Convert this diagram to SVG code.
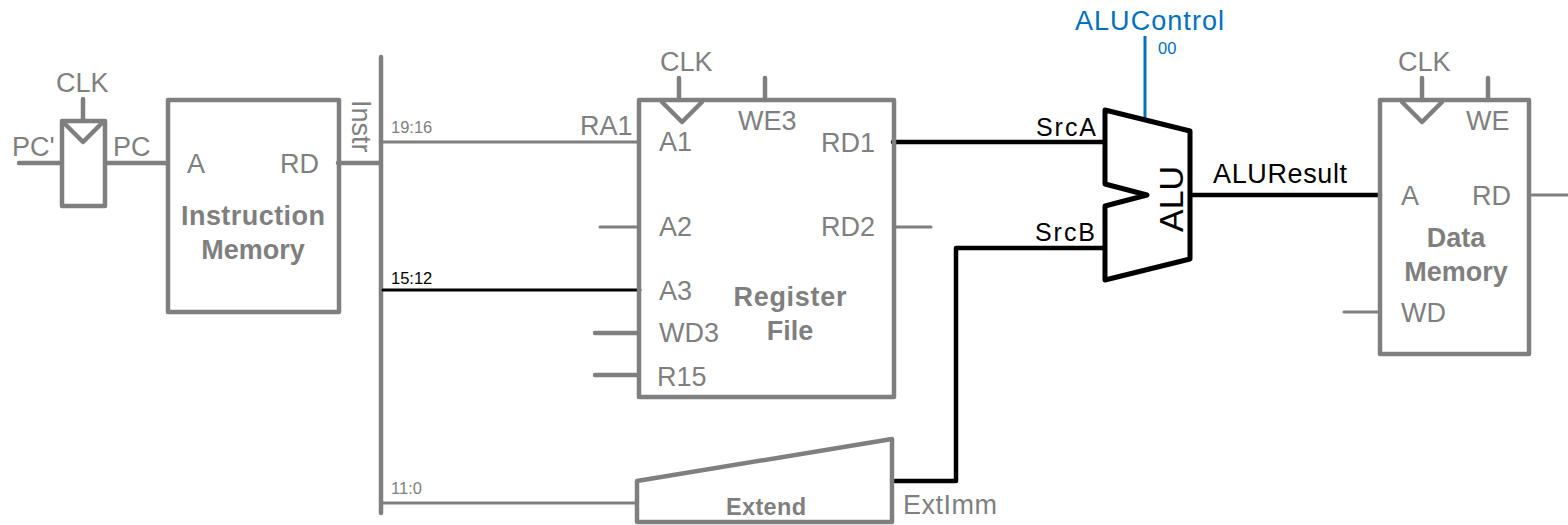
<svg xmlns="http://www.w3.org/2000/svg" width="1568" height="525" viewBox="0 0 1568 525">
<style>
text{font-family:"Liberation Sans",Arial,sans-serif;fill:#7f7f7f;font-size:27px}
.b{font-weight:bold;text-anchor:middle}
.k{fill:#000}
.s{font-size:16.5px}
.u{fill:#0070c0}
.g,.h,.m,.n,.a{fill:none;stroke-linecap:round;stroke-linejoin:round}
.g{stroke:#7f7f7f;stroke-width:4.5}
.h{stroke:#7f7f7f;stroke-width:3}
.m{stroke:#000;stroke-width:3}
.n{stroke:#000;stroke-width:4.5}
.a{stroke:#000;stroke-width:5;fill:#fff}
</style>
<g id="connectors">
<path class="g" d="M19 163H62M105 163H167M338 163H381M381 57V513M83 99V120M679 78V100M765 78V100M1422 78V100M1488 78V100"/>
<path class="h" d="M383 142H638M383 503H636M600 227H638M896 227H931M1344 312H1380M1532 195H1568"/>
<path class="g" d="M595 333H638M595 375H638"/>
<path class="m" d="M383 290H640"/>
<path class="n" d="M893 142H1105M1192 195H1380M895 481H956V248H1105"/>
<path d="M1145 36V121" fill="none" stroke="#0070c0" stroke-width="3"/>
</g>
<g id="pc-register">
<rect class="g" x="62" y="121" width="43" height="85" fill="none"/>
<path class="g" d="M64 123L83 142L102 123"/>
<text x="56" y="92">CLK</text><text x="12" y="156">PC'</text><text x="113" y="156">PC</text>
</g>
<g id="instruction-memory">
<rect class="g" x="168" y="100" width="171" height="212"/>
<text x="187" y="173">A</text><text x="280" y="173">RD</text>
<text class="b" x="253" y="225" textLength="144">Instruction</text><text class="b" x="253" y="259">Memory</text>
</g>
<text transform="translate(352 100) rotate(90)">Instr</text>
<text class="s" x="391" y="133">19:16</text>
<text class="s k" x="391" y="284">15:12</text>
<text class="s" x="391" y="494">11:0</text>
<g id="register-file">
<rect class="g" x="639" y="100" width="255" height="297"/>
<path class="g" d="M662 102L682 122L702 102"/>
<text x="660" y="71">CLK</text><text x="738" y="130">WE3</text><text x="580" y="135">RA1</text>
<text x="659" y="151">A1</text><text x="659" y="236">A2</text><text x="659" y="300">A3</text><text x="659" y="342">WD3</text><text x="657" y="386">R15</text>
<text x="821" y="152">RD1</text><text x="821" y="236">RD2</text>
<text class="b" x="790" y="306" textLength="113">Register</text><text class="b" x="790" y="340">File</text>
</g>
<g id="extend">
<path class="g" d="M637 481L892 439V522H637Z"/>
<text class="b" x="766" y="515" style="font-size:23.5px" textLength="80">Extend</text>
<text x="903" y="514" textLength="94">ExtImm</text>
</g>
<g id="alu">
<path class="a" d="M1105 110L1190 131V259L1105 280V206L1147 195L1105 184Z"/>
<text class="k" transform="translate(1183 232) rotate(-90)" style="font-size:34px">ALU</text>
<text class="k" x="1036" y="136" style="font-size:25px" textLength="60">SrcA</text>
<text class="k" x="1035" y="241" style="font-size:25px" textLength="60">SrcB</text>
<text class="k" x="1213" y="183" textLength="134">ALUResult</text>
<text class="u" x="1075" y="30" textLength="149">ALUControl</text>
<text class="u s" x="1158" y="54">00</text>
</g>
<g id="data-memory">
<rect class="g" x="1380" y="100" width="149" height="254"/>
<path class="g" d="M1402 102L1422 122L1442 102"/>
<text x="1398" y="71">CLK</text><text x="1466" y="130">WE</text><text x="1401" y="205">A</text><text x="1472" y="205">RD</text>
<text class="b" x="1456" y="247">Data</text><text class="b" x="1456" y="281">Memory</text>
<text x="1401" y="322">WD</text>
</g>
</svg>
